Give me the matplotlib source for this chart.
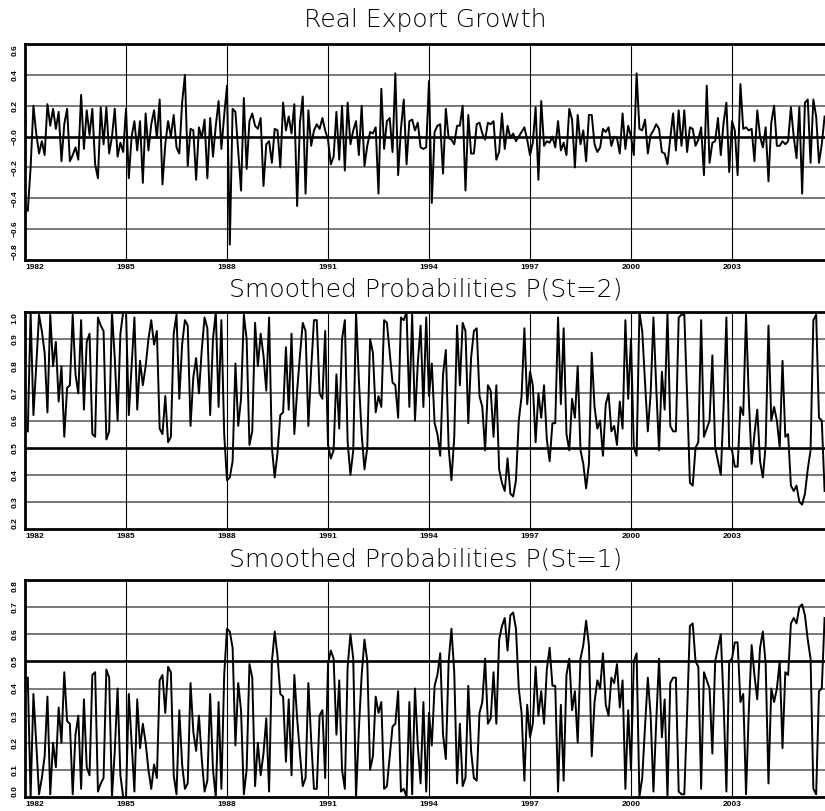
# Markov switching model - export growth and smoothed regime probabilities
import numpy as np
import matplotlib
matplotlib.use('Agg')
import matplotlib.pyplot as plt

# monthly data, 1982:02 - 2005:10
start_year = 1982
start_month = 2

growth = [
    -0.48, -0.2, 0.2, 0.02, -0.11, -0.03, -0.12, 0.21, 0.07, 0.18, 0.05, 0.16,
    -0.16, 0.08, 0.18, -0.16, -0.12, -0.07, -0.15, 0.27, -0.08, 0.17, 0.01, 0.18,
    -0.18, -0.27, 0.19, -0.05, 0.19, -0.11, 0.0, 0.18, -0.13, -0.04, -0.1, 0.18,
    -0.27, 0.0, 0.1, -0.09, 0.1, -0.3, 0.15, -0.09, 0.08, 0.17, -0.01, 0.24,
    -0.31, -0.05, 0.1, 0.0, 0.14, -0.07, -0.11, 0.22, 0.4, -0.19, 0.05, 0.04,
    -0.28, 0.06, -0.01, 0.11, -0.27, 0.12, -0.13, 0.07, 0.23, -0.08, 0.14, 0.33,
    -0.7, 0.18, 0.16, -0.1, -0.35, 0.25, -0.21, 0.1, 0.15, 0.07, 0.05, 0.12,
    -0.32, -0.05, -0.03, -0.17, 0.05, 0.04, -0.2, 0.22, 0.04, 0.13, 0.02, 0.21,
    -0.45, 0.09, 0.26, -0.37, 0.17, -0.06, 0.04, 0.08, 0.05, 0.12, 0.04, -0.02,
    -0.18, -0.13, 0.16, -0.15, 0.2, -0.22, 0.22, -0.05, 0.04, 0.1, -0.12, 0.2,
    -0.19, -0.06, 0.03, 0.02, 0.06, -0.37, 0.31, -0.08, 0.1, 0.12, -0.1, 0.41,
    -0.25, 0.05, 0.24, -0.18, 0.1, 0.11, 0.04, 0.09, -0.07, -0.08, -0.07, 0.36,
    -0.43, 0.03, 0.07, 0.08, -0.24, 0.18, -0.01, -0.02, -0.05, 0.07, 0.07, 0.2,
    -0.35, 0.14, -0.11, -0.11, 0.08, 0.09, 0.02, -0.02, 0.09, 0.08, 0.1, -0.15,
    -0.1, 0.15, -0.08, 0.07, -0.01, 0.02, -0.03, 0.0, 0.03, 0.06, -0.02, -0.12,
    -0.04, 0.19, -0.28, 0.23, -0.06, -0.03,
    -0.04, 0.0, -0.07, 0.1, -0.09, -0.04, -0.12, 0.18, 0.11, -0.2, 0.14, -0.05,
    0.04, -0.16, 0.14, 0.14, -0.05, -0.1, -0.07, 0.05, 0.03, 0.06, -0.06, 0.0,
    -0.01, -0.11, 0.15, -0.08, 0.07, 0.0, -0.12, 0.41,
    0.05, 0.04, 0.11, -0.11, 0.01, 0.04, 0.08, 0.05, -0.1, -0.11,
    -0.18, -0.01, 0.15, -0.09, 0.17, -0.06, 0.17, -0.1, 0.06, 0.05,
    -0.06, -0.02, 0.06, -0.25, 0.33, -0.17, -0.04, -0.03, 0.12, -0.12,
    0.09, 0.22, -0.23, 0.1, 0.04, -0.25, 0.34, 0.05, 0.06, 0.04,
    0.05, -0.16, 0.17, 0.0, -0.07, 0.06, -0.29, 0.09, 0.2, -0.06,
    -0.06, -0.03, -0.05, -0.03, 0.19, 0.0, -0.14, 0.19, -0.37, 0.22,
    0.24, -0.17, 0.24, 0.13, -0.17, -0.05, 0.13,
]

# smoothed probability of regime 2
prob2 = [
    0.56, 1.0, 0.62, 0.8, 0.99, 0.93, 0.85, 0.63, 0.99, 0.8, 0.89, 0.67,
    0.8, 0.54, 0.72, 0.73, 0.99, 0.77, 0.7, 0.97, 0.64, 0.89, 0.92, 0.55,
    0.54, 0.98, 0.95, 0.93, 0.53, 0.56, 1.0, 0.83, 0.6, 0.92, 1.0, 1.0,
    0.62, 0.8, 0.98, 0.64, 0.82, 0.73, 0.8, 0.9, 0.97, 0.88, 0.93, 0.57,
    0.55, 0.69, 0.52, 0.54, 0.92, 0.99, 0.68, 0.88, 0.97, 0.95, 0.58, 0.76,
    0.83, 0.7, 0.86, 0.98, 0.94, 0.62, 0.9, 1.0, 0.65, 0.97, 0.55, 0.38,
    0.39, 0.45, 0.81, 0.58, 0.68, 0.99, 0.9, 0.51, 0.56, 0.96, 0.8, 0.92,
    0.84, 0.71, 0.98,
    0.5, 0.39, 0.48, 0.62, 0.63, 0.87, 0.64, 0.92, 0.55, 0.71,
    0.84, 0.96, 0.93, 0.58, 0.79, 0.97, 0.97, 0.7, 0.68, 0.93,
    0.51, 0.46, 0.49, 0.77, 0.57, 0.9, 0.97, 0.52, 0.4, 0.49,
    1.0, 0.75, 0.55, 0.42, 0.5, 0.9, 0.85, 0.63, 0.69, 0.65,
    0.97, 0.96, 0.85, 0.74, 0.73, 0.61, 0.98, 0.97, 1.0, 0.65,
    0.99, 0.6, 0.81, 0.95, 0.65, 0.98, 0.69, 0.81, 0.59, 0.55,
    0.47, 0.77, 0.86, 0.5, 0.38, 0.54, 0.95, 0.73, 0.96, 0.93,
    0.59, 0.83, 0.93, 0.94, 0.69, 0.65, 0.49, 0.73, 0.71, 0.54,
    0.73, 0.42, 0.37, 0.34, 0.46, 0.33, 0.32, 0.38, 0.6, 0.69,
    0.94, 0.66, 0.78, 0.73, 0.52, 0.7, 0.61, 0.73, 0.53,
    0.45, 0.59, 0.59, 0.98, 0.66, 0.94, 0.55, 0.49, 0.68, 0.61,
    0.8, 0.49, 0.44, 0.35, 0.44, 0.85, 0.65, 0.57, 0.6, 0.47,
    0.66, 0.7, 0.56, 0.58, 0.51, 0.67, 0.57, 0.97, 0.68, 0.9,
    0.5, 0.47, 1.0, 0.93, 0.74, 0.56, 0.7, 0.98, 0.72, 0.49,
    0.78, 0.64, 1.0, 0.58, 0.56, 0.56, 0.98, 0.99, 0.99, 0.69,
    0.37, 0.36, 0.5, 0.52, 0.97, 0.54, 0.57, 0.6, 0.84, 0.5,
    0.45, 0.4, 0.65, 0.98, 0.5, 0.49, 0.43, 0.43, 0.65, 0.62,
    0.99, 0.68, 0.44, 0.55, 0.64, 0.45, 0.39, 0.51, 0.95, 0.6,
    0.65, 0.6, 0.5, 0.82, 0.54, 0.55, 0.36, 0.34, 0.36, 0.3,
    0.29, 0.33, 0.42, 0.49, 0.97, 0.99, 0.61, 0.6, 0.34,
]

# two regimes -> P(St=1) is the complement of P(St=2)
prob1 = list(1.0 - np.array(prob2))

year_ticks = [1982, 1985, 1988, 1991, 1994, 1997, 2000, 2003]

titles = ['Real Export Growth',
          'Smoothed Probabilities P(St=2)',
          'Smoothed Probabilities P(St=1)']
series = [growth, prob2, prob1]
yticks = [[-0.8, -0.6, -0.4, -0.2, 0.0, 0.2, 0.4, 0.6],
          [0.2, 0.3, 0.4, 0.5, 0.6, 0.7, 0.8, 0.9, 1.0],
          [0.0, 0.1, 0.2, 0.3, 0.4, 0.5, 0.6, 0.7, 0.8]]
ylabels = [['\u22120.8', '\u22120.6', '\u22120.4', '\u22120.2', '\u22120.0', '0.2', '0.4', '0.6'],
           ['0.2', '0.3', '0.4', '0.5', '0.6', '0.7', '0.8', '0.9', '1.0'],
           ['0.0', '0.1', '0.2', '0.3', '0.4', '0.5', '0.6', '0.7', '0.8']]
ref_lines = [0.0, 0.5, 0.5]

n = len(growth)
t = start_year + (start_month - 1 + np.arange(n)) / 12.0

W, H = 825, 811
fig = plt.figure(figsize=(W / 100, H / 100), dpi=100)

# pixel boxes of the three panels: (top, bottom) and title baseline
boxes = [(44, 260, 27), (312, 529, 296), (580, 797, 567)]
left_px = 25
px_per_year = 101.0 / 3
right_px = 826
x_max = start_year + (right_px - left_px) / px_per_year

tick_font = dict(family='Liberation Sans', weight='bold', size=6.0)

for i in range(3):
    top, bot, base = boxes[i]
    ax = fig.add_axes([left_px / W, 1 - bot / H, (right_px - left_px) / W, (bot - top) / H])

    ax.plot(t, series[i], color='black', lw=1.4, zorder=3)

    ax.set_xlim(start_year, x_max)
    ax.set_ylim(yticks[i][0], yticks[i][-1])

    # grid
    for y in yticks[i][1:-1]:
        if abs(y - ref_lines[i]) < 1e-9:
            ax.axhline(y, color='black', lw=1.9, zorder=2)
        else:
            ax.axhline(y, color='#555555', lw=1.1, zorder=1)
    for yr in year_ticks[1:]:
        ax.axvline(yr, color='black', lw=0.8, zorder=1)

    for s in ax.spines.values():
        s.set_linewidth(2.0)
        s.set_color('black')

    ax.set_xticks(year_ticks)
    ax.set_xticklabels([str(y) for y in year_ticks], **tick_font)
    ax.set_yticks(yticks[i])
    ax.set_yticklabels(ylabels[i], rotation=90, va='center', **tick_font)
    ax.tick_params(axis='y', length=0, pad=4.5)
    ax.tick_params(axis='x', length=0, pad=3)

    xl = ax.get_xticklabels()
    xl[0].set_ha('left')
    yl = ax.get_yticklabels()
    yl[0].set_va('bottom')
    yl[-1].set_va('top')

    fig.text(0.5 * (left_px + right_px) / W, 1 - base / H, titles[i],
             ha='center', va='baseline', fontsize=18,
             family='DejaVu Sans', weight='light', color='black')

fig.savefig('out.png', dpi=100)
